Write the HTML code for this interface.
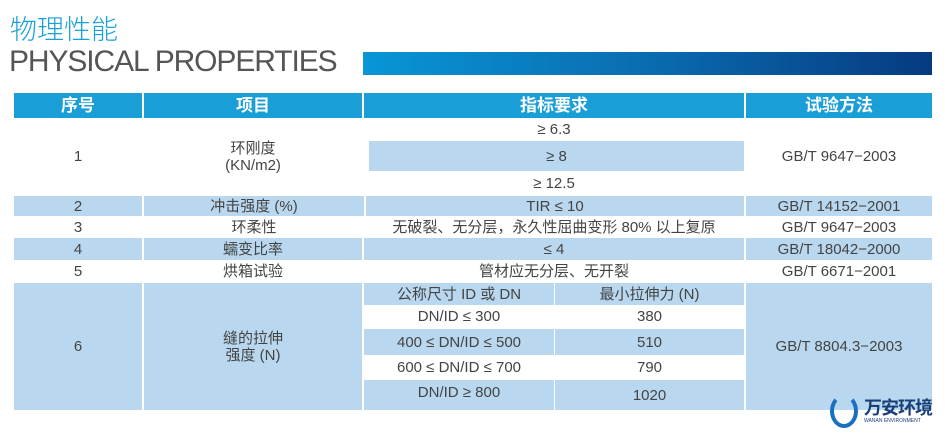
<!DOCTYPE html>
<html><head><meta charset="utf-8"><style>
body{margin:0;width:947px;height:433px;background:#fff;position:relative;overflow:hidden;font-family:"Liberation Sans","Noto Sans CJK SC",sans-serif;color:#444}
.a{position:absolute}
.c{position:absolute;display:flex;align-items:center;justify-content:center;font-size:15px;box-sizing:border-box;text-align:center;line-height:17px}
.b{background:#b9d8ef}
.h{background:#1a9ed8;color:#fff;font-weight:bold;font-size:17px}
</style></head><body>
<div class="a" style="left:10px;top:8px;font-size:27px;color:#1aa0d8;font-family:'Noto Sans CJK SC',sans-serif;font-weight:300">物理性能</div>
<div class="a" style="left:9px;top:45px;font-size:30px;color:#555;letter-spacing:-1.1px">PHYSICAL PROPERTIES</div>
<div class="a" style="left:363px;top:52px;width:569px;height:23px;background:linear-gradient(90deg,#0896d6,#0a6cb0 50%,#063a80)"></div>

<div class="c h" style="left:14px;top:93px;width:128px;height:25px">序号</div>
<div class="c h" style="left:144px;top:93px;width:218px;height:25px">项目</div>
<div class="c h" style="left:364px;top:93px;width:380px;height:25px">指标要求</div>
<div class="c h" style="left:746px;top:93px;width:186px;height:25px">试验方法</div>

<div class="c" style="left:14px;top:118px;width:128px;height:77px">1</div>
<div class="c" style="left:144px;top:118px;width:218px;height:77px">环刚度<br>(KN/m2)</div>
<div class="c" style="left:364px;top:118px;width:380px;height:23px">≥ 6.3</div>
<div class="c b" style="left:369px;top:141px;width:375px;height:30px">≥ 8</div>
<div class="c" style="left:364px;top:171px;width:380px;height:24px">≥ 12.5</div>
<div class="c" style="left:746px;top:118px;width:186px;height:77px">GB/T 9647−2003</div>

<div class="c b" style="left:14px;top:196px;width:128px;height:20px">2</div>
<div class="c b" style="left:144px;top:196px;width:220px;height:20px">冲击强度 (%)</div>
<div class="c b" style="left:366px;top:196px;width:378px;height:20px">TIR ≤ 10</div>
<div class="c b" style="left:746px;top:196px;width:186px;height:20px">GB/T 14152−2001</div>

<div class="c" style="left:14px;top:216px;width:128px;height:22px">3</div>
<div class="c" style="left:144px;top:216px;width:220px;height:22px">环柔性</div>
<div class="c" style="left:364px;top:216px;width:380px;height:22px">无破裂、无分层，永久性屈曲变形 80% 以上复原</div>
<div class="c" style="left:746px;top:216px;width:186px;height:22px">GB/T 9647−2003</div>

<div class="c b" style="left:14px;top:238px;width:128px;height:22px">4</div>
<div class="c b" style="left:144px;top:238px;width:218px;height:22px">蠕变比率</div>
<div class="c b" style="left:364px;top:238px;width:380px;height:22px">≤ 4</div>
<div class="c b" style="left:746px;top:238px;width:186px;height:22px">GB/T 18042−2000</div>

<div class="c" style="left:14px;top:260px;width:128px;height:23px">5</div>
<div class="c" style="left:144px;top:260px;width:218px;height:23px">烘箱试验</div>
<div class="c" style="left:364px;top:260px;width:380px;height:23px">管材应无分层、无开裂</div>
<div class="c" style="left:746px;top:260px;width:186px;height:23px">GB/T 6671−2001</div>

<div class="c b" style="left:14px;top:283px;width:128px;height:127px">6</div>
<div class="c b" style="left:144px;top:283px;width:218px;height:127px">缝的拉伸<br>强度 (N)</div>
<div class="c b" style="left:364px;top:283px;width:190px;height:22px">公称尺寸 ID 或 DN</div>
<div class="c b" style="left:555px;top:283px;width:189px;height:22px">最小拉伸力 (N)</div>
<div class="c" style="left:364px;top:305px;width:190px;height:23px">DN/ID ≤ 300</div>
<div class="c" style="left:555px;top:305px;width:189px;height:23px">380</div>
<div class="c b" style="left:364px;top:329px;width:190px;height:26px">400 ≤ DN/ID ≤ 500</div>
<div class="c b" style="left:555px;top:329px;width:189px;height:26px">510</div>
<div class="c" style="left:364px;top:355px;width:190px;height:25px">600 ≤ DN/ID ≤ 700</div>
<div class="c" style="left:555px;top:355px;width:189px;height:25px">790</div>
<div class="c b" style="left:364px;top:380px;width:190px;height:30px;padding-bottom:6px">DN/ID ≥ 800</div>
<div class="c b" style="left:555px;top:380px;width:189px;height:30px">1020</div>
<div class="c b" style="left:746px;top:283px;width:186px;height:127px">GB/T 8804.3−2003</div>

<div class="a" style="left:830px;top:394px;width:28px;height:34px;border-radius:50%;border:4px solid #1a70c0;border-top-color:transparent;box-sizing:border-box"></div>
<div class="a" style="left:864px;top:397px;font-size:18px;font-weight:bold;color:#1a3e78;font-family:'Noto Sans CJK SC',sans-serif;line-height:20px;letter-spacing:-1px">万安环境</div>
<div class="a" style="left:864px;top:418px;font-size:5px;color:#1a3e78">WANAN ENVIRONMENT</div>
</body></html>
